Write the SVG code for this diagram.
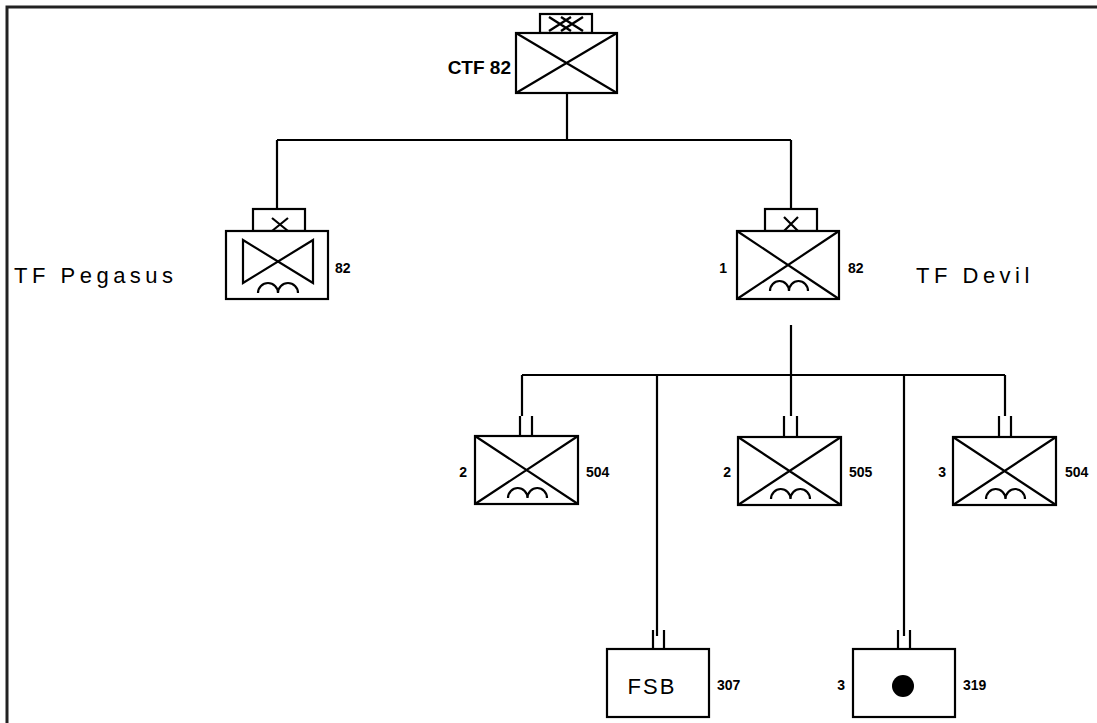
<svg xmlns="http://www.w3.org/2000/svg" width="1097" height="723" viewBox="0 0 1097 723">
<style>
.s{fill:none;stroke:#000;stroke-width:2.2}
.b{fill:#fff;stroke:#000;stroke-width:2.2}
.n{font-family:"Liberation Sans",Arial,sans-serif;font-weight:bold;font-size:14px;fill:#000}
.t{font-family:"Liberation Sans",Arial,sans-serif;font-size:22px;letter-spacing:4.5px;fill:#000}
</style>
<rect width="1097" height="723" fill="#fff"/>
<path d="M7,723 V7 H1097" fill="none" stroke="#222" stroke-width="3"/>
<g id="connectors" class="s">
<path d="M567,93 V140 M277,140 H791 M277,140 V209 M791,140 V209"/>
<path d="M791,325 V375 M522,375 H1005 M522,375 V416 M657,375 V636 M791,375 V416 M904,375 V636 M1005,375 V416"/>
</g>
<g id="ctf82">
<rect class="b" x="540" y="14" width="52" height="19"/>
<path class="s" d="M549,17 L571,31 M549,31 L571,17 M561,17 L583,31 M561,31 L583,17" style="stroke-width:2.4"/>
<rect class="b" x="516" y="33" width="101" height="60"/>
<path class="s" d="M516,33 L617,93 M516,93 L617,33"/>
<text class="n" x="511" y="74" text-anchor="end" style="font-size:19px">CTF 82</text>
</g>
<g id="pegasus">
<rect class="b" x="253" y="209" width="52" height="22"/>
<path class="s" d="M272,218 L288,231 M272,231 L288,218"/>
<rect class="b" x="226" y="231" width="102" height="68"/>
<path class="s" d="M243,240 V283 L313,240 V283 Z"/>
<path class="s" d="M258,293 a10,10 0 0 1 20,0 a10,10 0 0 1 20,0"/>
<text class="n" x="335" y="273">82</text>
<text class="t" x="14" y="283">TF Pegasus</text>
</g>
<g id="devil">
<rect class="b" x="765" y="209" width="52" height="22"/>
<path class="s" d="M784,217 L798,231 M784,231 L798,217"/>
<rect class="b" x="737" y="231" width="102" height="68"/>
<path class="s" d="M737,231 L839,299 M737,299 L839,231"/>
<path class="s" d="M770,291 a9.5,10 0 0 1 19,0 a9.5,10 0 0 1 19,0"/>
<text class="n" x="727" y="273" text-anchor="end">1</text>
<text class="n" x="848" y="273">82</text>
<text class="t" x="916" y="283">TF Devil</text>
</g>
<g id="u2-504">
<path class="s" d="M520,416 V436 M532,416 V436"/>
<rect class="b" x="475" y="436" width="103" height="68"/>
<path class="s" d="M475,436 L578,504 M475,504 L578,436"/>
<path class="s" d="M508,498 a9.75,10 0 0 1 19.5,0 a9.75,10 0 0 1 19.5,0"/>
<text class="n" x="467" y="477" text-anchor="end">2</text>
<text class="n" x="586" y="477">504</text>
</g>
<g id="u2-505">
<path class="s" d="M784,416 V437 M797,416 V437"/>
<rect class="b" x="738" y="437" width="103" height="68"/>
<path class="s" d="M738,437 L841,505 M738,505 L841,437"/>
<path class="s" d="M771,499 a9.75,10 0 0 1 19.5,0 a9.75,10 0 0 1 19.5,0"/>
<text class="n" x="731" y="477" text-anchor="end">2</text>
<text class="n" x="849" y="477">505</text>
</g>
<g id="u3-504">
<path class="s" d="M999,416 V437 M1011,416 V437"/>
<rect class="b" x="953" y="437" width="103" height="68"/>
<path class="s" d="M953,437 L1056,505 M953,505 L1056,437"/>
<path class="s" d="M986,499 a9.75,10 0 0 1 19.5,0 a9.75,10 0 0 1 19.5,0"/>
<text class="n" x="946" y="477" text-anchor="end">3</text>
<text class="n" x="1065" y="477">504</text>
</g>
<g id="fsb307">
<path class="s" d="M653,630 V649 M664,630 V649"/>
<rect class="b" x="607" y="649" width="102" height="68"/>
<text x="652" y="694" text-anchor="middle" style="font-family:'Liberation Sans',Arial,sans-serif;font-size:22px;letter-spacing:2px">FSB</text>
<text class="n" x="717" y="690">307</text>
</g>
<g id="u3-319">
<path class="s" d="M898,630 V649 M910,630 V649"/>
<rect class="b" x="853" y="649" width="102" height="68"/>
<circle cx="903" cy="686" r="11" fill="#000"/>
<text class="n" x="845" y="690" text-anchor="end">3</text>
<text class="n" x="963" y="690">319</text>
</g>
</svg>
